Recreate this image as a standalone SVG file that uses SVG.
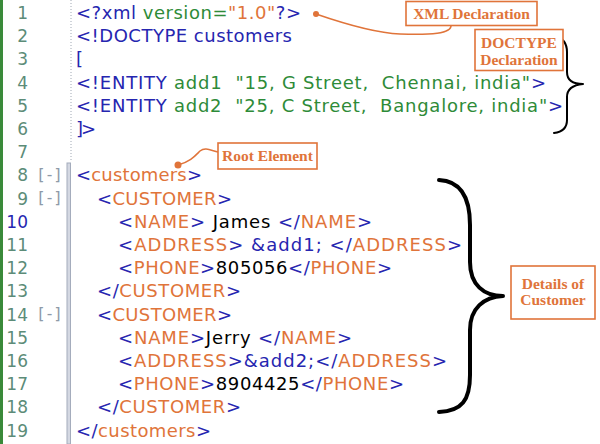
<svg xmlns="http://www.w3.org/2000/svg" width="600" height="444" viewBox="0 0 600 444">
<style>
.code{font-family:"DejaVu Sans",Verdana,sans-serif;font-size:18px;white-space:pre}
.ln{font-family:"DejaVu Sans",Verdana,sans-serif;font-size:17px;fill:#5c8c78;text-anchor:end}
.fold{font-family:"DejaVu Sans Mono",monospace;font-size:16px;fill:#8e9aa8;white-space:pre}
.b{fill:#2626b0}.o{fill:#e0743a}.g{fill:#2e8b38}.k{fill:#000}
.ann rect{fill:#fff;stroke:#e0743a;stroke-width:1.6}
.ann text{font-family:"Liberation Serif","Times New Roman",serif;font-weight:bold;font-size:15.5px;fill:#e0743a;text-anchor:middle}
.lead{fill:none;stroke:#e0743a;stroke-width:1.5}
.brace{fill:none;stroke:#000;stroke-linecap:round;stroke-linejoin:round}
</style>
<rect width="600" height="444" fill="#fff"/>
<g id="gutter">
<rect x="0" y="0" width="3" height="444" fill="#3a8a3a"/>
<line x1="71" y1="0" x2="71" y2="162" stroke="#a0a8b4" stroke-width="1" stroke-dasharray="1,2"/>
<rect x="67" y="163" width="3.5" height="281" fill="#d4d8e2" stroke="#a4acbc" stroke-width="1"/>
<text class="ln" x="28" y="19">1</text>
<text class="ln" x="28" y="42.2">2</text>
<text class="ln" x="28" y="65.4">3</text>
<text class="ln" x="28" y="88.6">4</text>
<text class="ln" x="28" y="111.8">5</text>
<text class="ln" x="28" y="135">6</text>
<text class="ln" x="28" y="158.2">7</text>
<text class="ln" x="28" y="181.4">8</text>
<text class="ln" x="28" y="204.6">9</text>
<text class="ln" x="28" y="227.8" style="fill:#2626b0">10</text>
<text class="ln" x="28" y="251">11</text>
<text class="ln" x="28" y="274.2">12</text>
<text class="ln" x="28" y="297.4">13</text>
<text class="ln" x="28" y="320.6">14</text>
<text class="ln" x="28" y="343.8">15</text>
<text class="ln" x="28" y="367">16</text>
<text class="ln" x="28" y="390.2">17</text>
<text class="ln" x="28" y="413.4">18</text>
<text class="ln" x="28" y="436.6">19</text>
<text class="fold" x="36" y="180" textLength="27" lengthAdjust="spacing">[-]</text>
<text class="fold" x="36" y="203.2" textLength="27" lengthAdjust="spacing">[-]</text>
<text class="fold" x="36" y="319.2" textLength="27" lengthAdjust="spacing">[-]</text>
</g>
<g id="code">
<text class="code" x="76" y="19" textLength="225" lengthAdjust="spacing"><tspan class="b">&lt;?xml</tspan><tspan class="g"> version=</tspan><tspan class="o">"1.0"</tspan><tspan class="b">?&gt;</tspan></text>
<text class="code b" x="76" y="42.2" textLength="216" lengthAdjust="spacing">&lt;!DOCTYPE customers</text>
<text class="code b" x="76" y="65.4">[</text>
<text class="code" x="76" y="88.6" textLength="470" lengthAdjust="spacing"><tspan class="b">&lt;!ENTITY </tspan><tspan class="g">add1  "15, G Street,  Chennai, india"</tspan><tspan class="b">&gt;</tspan></text>
<text class="code" x="76" y="111.8" textLength="487" lengthAdjust="spacing"><tspan class="b">&lt;!ENTITY </tspan><tspan class="g">add2  "25, C Street,  Bangalore, india"</tspan><tspan class="b">&gt;</tspan></text>
<text class="code b" x="76" y="135" textLength="20" lengthAdjust="spacing">]&gt;</text>
<text class="code" x="76" y="181.4" textLength="126" lengthAdjust="spacing"><tspan class="b">&lt;</tspan><tspan class="o">customers</tspan><tspan class="b">&gt;</tspan></text>
<text class="code" x="97" y="204.6" textLength="135" lengthAdjust="spacing"><tspan class="b">&lt;</tspan><tspan class="o">CUSTOMER</tspan><tspan class="b">&gt;</tspan></text>
<text class="code" x="118" y="227.8" textLength="254" lengthAdjust="spacing"><tspan class="b">&lt;</tspan><tspan class="o">NAME</tspan><tspan class="b">&gt;</tspan><tspan class="k"> James </tspan><tspan class="b">&lt;/</tspan><tspan class="o">NAME</tspan><tspan class="b">&gt;</tspan></text>
<text class="code" x="118" y="251" textLength="344" lengthAdjust="spacing"><tspan class="b">&lt;</tspan><tspan class="o">ADDRESS</tspan><tspan class="b">&gt; &amp;add1; &lt;/</tspan><tspan class="o">ADDRESS</tspan><tspan class="b">&gt;</tspan></text>
<text class="code" x="118" y="274.2" textLength="274" lengthAdjust="spacing"><tspan class="b">&lt;</tspan><tspan class="o">PHONE</tspan><tspan class="b">&gt;</tspan><tspan class="k">805056</tspan><tspan class="b">&lt;/</tspan><tspan class="o">PHONE</tspan><tspan class="b">&gt;</tspan></text>
<text class="code" x="97" y="297.4" textLength="144" lengthAdjust="spacing"><tspan class="b">&lt;/</tspan><tspan class="o">CUSTOMER</tspan><tspan class="b">&gt;</tspan></text>
<text class="code" x="97" y="320.6" textLength="135" lengthAdjust="spacing"><tspan class="b">&lt;</tspan><tspan class="o">CUSTOMER</tspan><tspan class="b">&gt;</tspan></text>
<text class="code" x="118" y="343.8" textLength="234" lengthAdjust="spacing"><tspan class="b">&lt;</tspan><tspan class="o">NAME</tspan><tspan class="b">&gt;</tspan><tspan class="k">Jerry </tspan><tspan class="b">&lt;/</tspan><tspan class="o">NAME</tspan><tspan class="b">&gt;</tspan></text>
<text class="code" x="118" y="367" textLength="329" lengthAdjust="spacing"><tspan class="b">&lt;</tspan><tspan class="o">ADDRESS</tspan><tspan class="b">&gt;&amp;add2;&lt;/</tspan><tspan class="o">ADDRESS</tspan><tspan class="b">&gt;</tspan></text>
<text class="code" x="118" y="390.2" textLength="286" lengthAdjust="spacing"><tspan class="b">&lt;</tspan><tspan class="o">PHONE</tspan><tspan class="b">&gt;</tspan><tspan class="k">8904425</tspan><tspan class="b">&lt;/</tspan><tspan class="o">PHONE</tspan><tspan class="b">&gt;</tspan></text>
<text class="code" x="97" y="413.4" textLength="144" lengthAdjust="spacing"><tspan class="b">&lt;/</tspan><tspan class="o">CUSTOMER</tspan><tspan class="b">&gt;</tspan></text>
<text class="code" x="76" y="436.6" textLength="135" lengthAdjust="spacing"><tspan class="b">&lt;/</tspan><tspan class="o">customers</tspan><tspan class="b">&gt;</tspan></text>
</g>
<g id="connectors">
<path class="lead" d="M316,14 C345,24 375,33 400,34 C430,35 452,34 451,25"/>
<circle cx="316" cy="14" r="3" fill="#e0743a"/>
<path class="lead" d="M178,165 C190,162 195,156 200,151 C205,147 210,150 218,152"/>
<circle cx="178" cy="165" r="3.5" fill="#e0743a"/>
<path class="brace" stroke-width="2" d="M554,35 C564,38 567,44 567,52 L567,72 C567,80 573,84 583,84 C573,85 567,89 567,97 L567,120 C567,128 562,132 554,133"/>
<path class="brace" stroke-width="4" d="M439,180 C462,181 470,200 470,225 L470,262 C470,285 484,296 503,296 C484,297 470,308 470,330 L470,375 C470,400 462,411 439,412"/>
</g>
<g id="xml-declaration" class="ann">
<rect x="406" y="1.5" width="131" height="24"/>
<text x="471.5" y="19">XML Declaration</text>
</g>
<g id="doctype-declaration" class="ann">
<rect x="475" y="29.5" width="88" height="41"/>
<text x="519" y="48">DOCTYPE</text>
<text x="519" y="65">Declaration</text>
</g>
<g id="root-element" class="ann">
<rect x="218" y="143" width="99" height="26"/>
<text x="267.5" y="161">Root Element</text>
</g>
<g id="details-of-customer" class="ann">
<rect x="511" y="266" width="84" height="53"/>
<text x="553" y="289">Details of</text>
<text x="553" y="305">Customer</text>
</g>
</svg>
